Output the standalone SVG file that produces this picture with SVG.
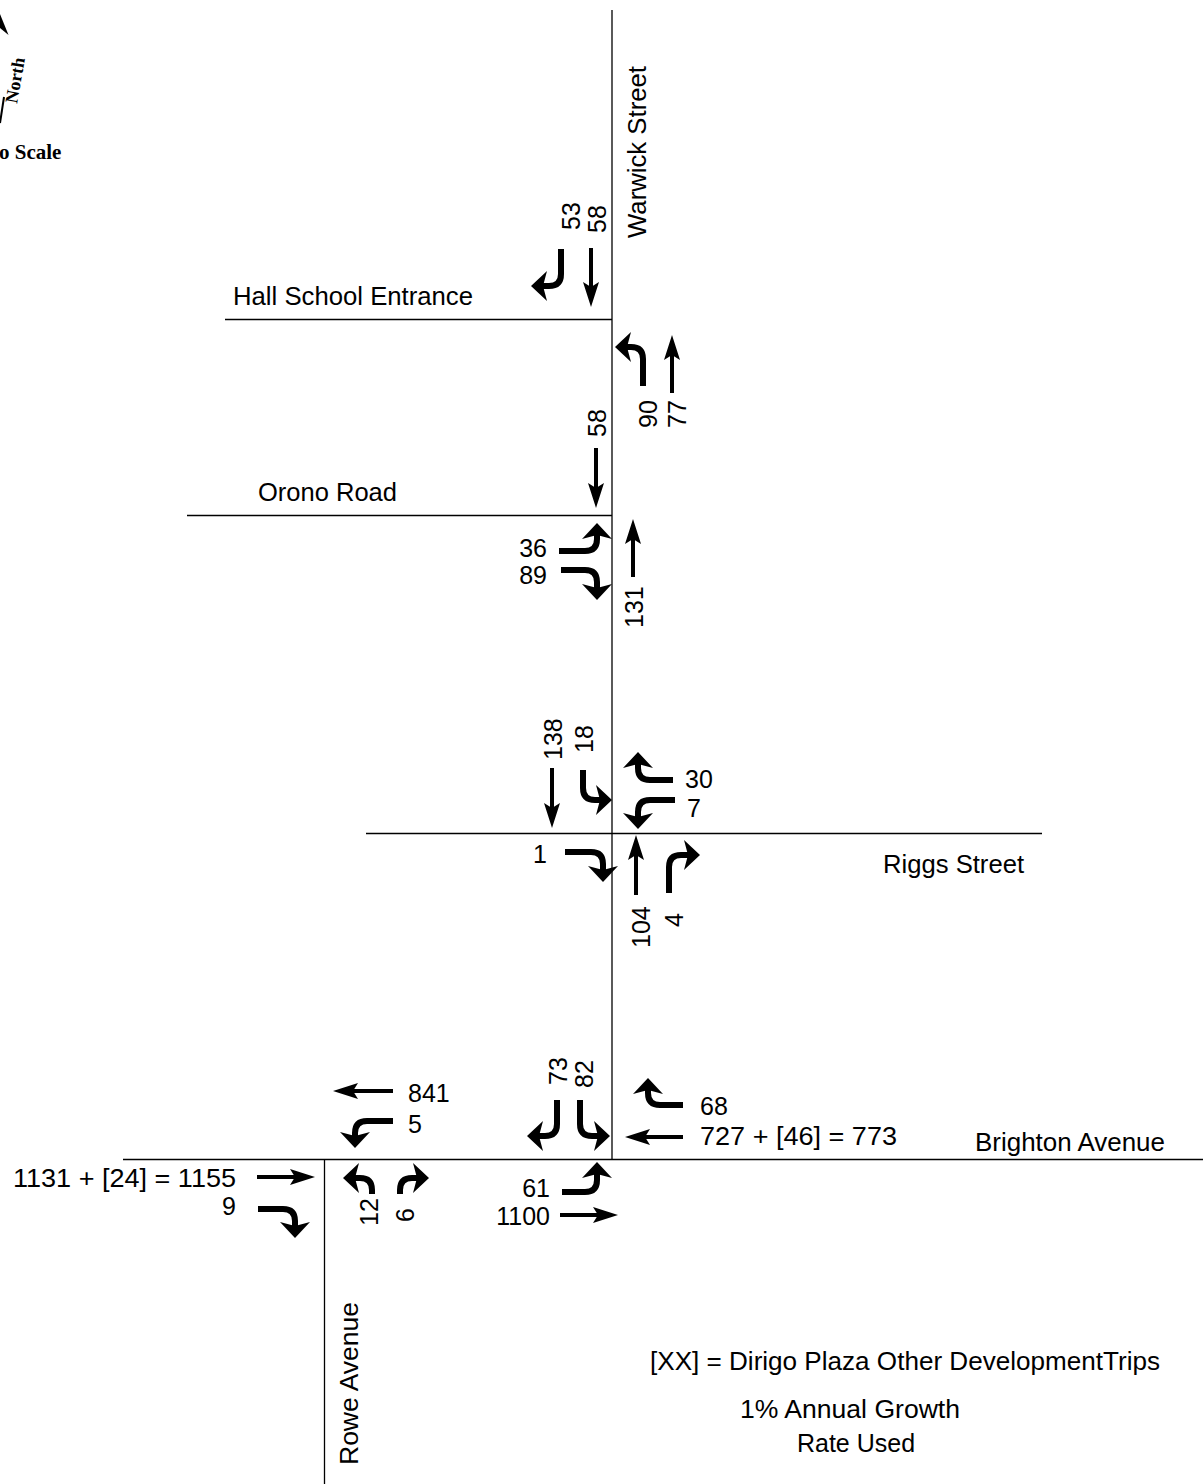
<svg xmlns="http://www.w3.org/2000/svg" width="1203" height="1484" viewBox="0 0 1203 1484">
<style>
text{font-family:"Liberation Sans",Arial,sans-serif;font-size:25px;fill:#000}
.serif{font-family:"Liberation Serif","Times New Roman",serif;font-weight:bold}
.road{stroke:#000;stroke-width:1.3;fill:none}
.st{stroke:#000;stroke-width:4;fill:none;marker-end:url(#hs)}
.tn{stroke:#000;stroke-width:6;fill:none;marker-end:url(#ht)}
.end{text-anchor:end}
.mid{text-anchor:middle}
</style>
<defs>
<marker id="hs" markerUnits="userSpaceOnUse" viewBox="-26 -10 30 20" markerWidth="30" markerHeight="20" refX="-20" refY="0" orient="auto" overflow="visible"><path d="M0,0 L-25,-8 L-20,0 L-25,8 Z" fill="#000"/></marker>
<marker id="ht" markerUnits="userSpaceOnUse" viewBox="-18 -16 20 32" markerWidth="20" markerHeight="32" refX="-12" refY="0" orient="auto" overflow="visible"><path d="M0,0 L-16,-15 L-12,0 L-16,15 Z" fill="#000"/></marker>
</defs>
<rect width="1203" height="1484" fill="#fff"/>

<g id="north">
<polygon points="0,14 8.5,35 0,28" fill="#000"/>
<line x1="0" y1="123" x2="4" y2="97" stroke="#000" stroke-width="2"/>
<text class="serif" transform="translate(17,104) rotate(-80)" style="font-size:18px">North</text>
<text class="serif" x="-1" y="159" style="font-size:21px">o Scale</text>
</g>

<g id="roads">
<line class="road" x1="612" y1="10" x2="612" y2="1160"/>
<line class="road" x1="225" y1="319.5" x2="612" y2="319.5"/>
<line class="road" x1="187" y1="515.5" x2="612" y2="515.5"/>
<line class="road" x1="366" y1="833.5" x2="1042" y2="833.5"/>
<line class="road" x1="123" y1="1159.5" x2="1203" y2="1159.5"/>
<line class="road" x1="324.5" y1="1159.5" x2="324.5" y2="1484"/>
<text transform="translate(646,238) rotate(-90)" textLength="172" lengthAdjust="spacingAndGlyphs">Warwick Street</text>
<text x="233" y="305" textLength="240" lengthAdjust="spacingAndGlyphs">Hall School Entrance</text>
<text x="258" y="501" textLength="139" lengthAdjust="spacingAndGlyphs">Orono Road</text>
<text x="883" y="873" textLength="141" lengthAdjust="spacingAndGlyphs">Riggs Street</text>
<text x="975" y="1151" textLength="190" lengthAdjust="spacingAndGlyphs">Brighton Avenue</text>
<text transform="translate(358,1465) rotate(-90)" textLength="163" lengthAdjust="spacingAndGlyphs">Rowe Avenue</text>
</g>

<g id="hall-school">
<text transform="translate(580,230) rotate(-90)">53</text>
<text transform="translate(606,233) rotate(-90)">58</text>
<text transform="translate(657,428) rotate(-90)">90</text>
<text transform="translate(686,428) rotate(-90)">77</text>
</g>

<g id="orono">
<text transform="translate(606,437) rotate(-90)">58</text>
<text class="end" x="547" y="557">36</text>
<text class="end" x="547" y="584">89</text>
<text transform="translate(643,628) rotate(-90)">131</text>
</g>

<g id="riggs">
<text transform="translate(562,760) rotate(-90)">138</text>
<text transform="translate(593,753) rotate(-90)">18</text>
<text x="685" y="788">30</text>
<text x="687" y="817">7</text>
<text class="end" x="547" y="863">1</text>
<text transform="translate(650,948) rotate(-90)">104</text>
<text transform="translate(683,927) rotate(-90)">4</text>
</g>

<g id="brighton-warwick">
<text transform="translate(567,1085) rotate(-90)">73</text>
<text transform="translate(593,1088) rotate(-90)">82</text>
<text x="700" y="1115">68</text>
<text x="700" y="1145" textLength="197" lengthAdjust="spacingAndGlyphs">727 + [46] = 773</text>
<text class="end" x="550" y="1197">61</text>
<text class="end" x="550" y="1225">1100</text>
</g>

<g id="brighton-rowe">
<text x="408" y="1102">841</text>
<text x="408" y="1133">5</text>
<text class="end" x="236" y="1187" textLength="223" lengthAdjust="spacingAndGlyphs">1131 + [24] = 1155</text>
<text class="end" x="236" y="1215">9</text>
<text transform="translate(378,1226) rotate(-90)">12</text>
<text transform="translate(414,1222) rotate(-90)">6</text>
</g>

<g id="connectors">
<path class="tn" d="M561,249 V274 Q561,286 549,286 H543"/>
<path class="st" d="M591,248 V287"/>
<path class="tn" d="M643,386 V359 Q643,347 631,347 H627"/>
<path class="st" d="M672,393 V355"/>
<path class="st" d="M596,448 V488"/>
<path class="tn" d="M559,551 H585 Q597,551 597,539 V535"/>
<path class="tn" d="M561,570 H585 Q597,570 597,582 V588"/>
<path class="st" d="M633,577 V539"/>
<path class="st" d="M552,768 V808"/>
<path class="tn" d="M583,770 V788 Q583,800 595,800 H600"/>
<path class="tn" d="M673,780 H650 Q638,780 638,768 V764"/>
<path class="tn" d="M675,800 H650 Q638,800 638,812 V817"/>
<path class="tn" d="M565,852 H591 Q603,852 603,864 V870"/>
<path class="st" d="M636,895 V855"/>
<path class="tn" d="M669,893 V867 Q669,855 681,855 H688"/>
<path class="tn" d="M557,1100 V1124 Q557,1136 545,1136 H539"/>
<path class="tn" d="M580,1100 V1124 Q580,1136 592,1136 H598"/>
<path class="tn" d="M683,1105 H660 Q648,1105 648,1093 V1090"/>
<path class="st" d="M683,1137 H645"/>
<path class="tn" d="M562,1192 H585 Q597,1192 597,1180 V1174"/>
<path class="st" d="M560,1215 H598"/>
<path class="st" d="M393,1091 H353"/>
<path class="tn" d="M393,1121 H367 Q355,1121 355,1133 V1136"/>
<path class="tn" d="M372,1194 V1190 Q372,1178 360,1178 H355"/>
<path class="tn" d="M400,1194 V1190 Q400,1178 412,1178 H417"/>
<path class="st" d="M257,1177 H295"/>
<path class="tn" d="M258,1209 H283 Q295,1209 295,1221 V1226"/>
</g>

<g id="notes">
<text x="650" y="1370" textLength="510" lengthAdjust="spacingAndGlyphs">[XX] = Dirigo Plaza Other DevelopmentTrips</text>
<text class="mid" x="850" y="1418" textLength="220" lengthAdjust="spacingAndGlyphs">1% Annual Growth</text>
<text class="mid" x="856" y="1452">Rate Used</text>
</g>
</svg>
